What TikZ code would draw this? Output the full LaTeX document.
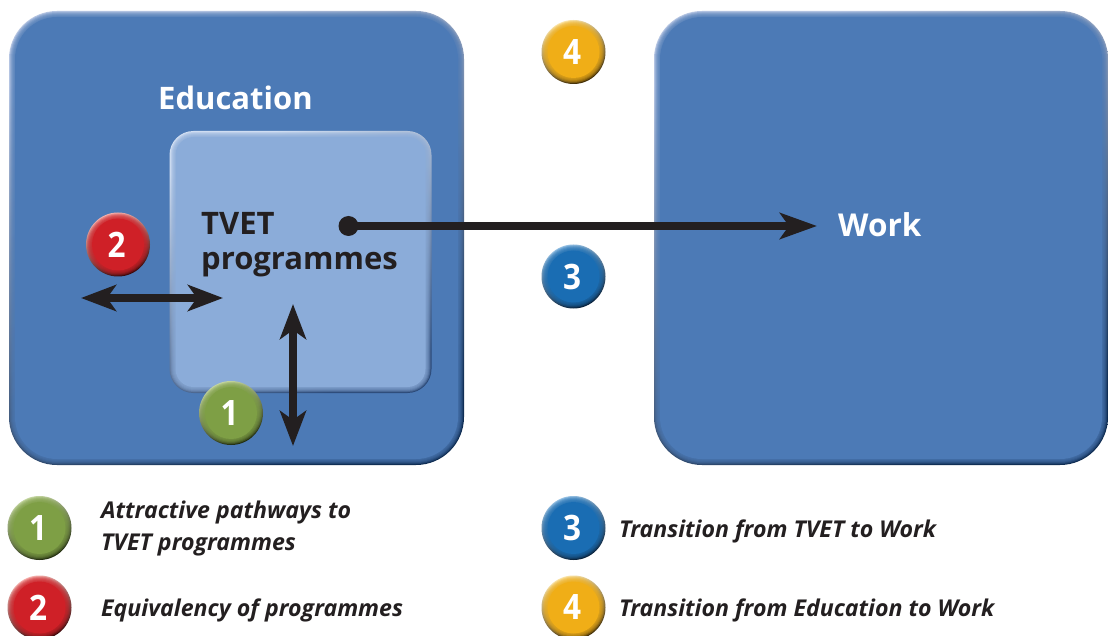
\documentclass[tikz,border=0pt]{standalone}
\usepackage{fontspec}
\setmainfont{Open Sans}
\usetikzlibrary{arrows.meta}
\definecolor{eduBase}{HTML}{4C7AB6}
\definecolor{eduLight}{HTML}{B4C4E2}
\definecolor{eduDark}{HTML}{0E2C52}
\definecolor{tvetBase}{HTML}{8BACD9}
\definecolor{tvetLight}{HTML}{D2DFF2}
\definecolor{tvetDark}{HTML}{2C4A78}
\definecolor{greenBase}{HTML}{7E9F45}
\definecolor{greenLight}{HTML}{C4D6A0}
\definecolor{greenDark}{HTML}{1F2A0C}
\definecolor{redBase}{HTML}{CF2027}
\definecolor{redLight}{HTML}{F6B0AC}
\definecolor{redDark}{HTML}{3A0506}
\definecolor{blueBase}{HTML}{1A6DB3}
\definecolor{blueLight}{HTML}{94C0E4}
\definecolor{blueDark}{HTML}{051E38}
\definecolor{orangeBase}{HTML}{F0AE17}
\definecolor{orangeLight}{HTML}{FBE3A4}
\definecolor{orangeDark}{HTML}{3E2A02}
\definecolor{inkDark}{HTML}{231F20}
\tikzset{
  rimbox/.style n args={3}{inner sep=0pt,top color=#1,middle color=#2,bottom color=#3,shading angle=22},
  facebox/.style={inner sep=0pt,draw=none},
  ballnum/.style={inner sep=0pt,circle,text=white,font=\fontsize{35}{35}\selectfont\bfseries},
  edulabel/.style={text=white,font=\fontsize{31}{31}\selectfont\bfseries,inner sep=0pt,anchor=base west},
  tvetlabel/.style={text=inkDark,font=\fontsize{31}{36}\selectfont\bfseries,inner sep=0pt},
  legendtext/.style={text=inkDark,font=\fontsize{23.15}{32}\selectfont\bfseries\itshape,inner sep=0pt,anchor=base west},
  heavy/.style={draw=inkDark,line width=8pt},
  twohead/.style={heavy,{Stealth[length=35pt,width=26pt,inset=9pt]}-{Stealth[length=35pt,width=26pt,inset=9pt]},shorten >=0pt,shorten <=0pt},
  onehead/.style={heavy,-{Stealth[length=37pt,width=26pt,inset=9pt]}},
}
% name, cx, cy, w, h, r(pt-number), colour stem
\newcommand{\bevelbox}[7]{%
  \node[rimbox={#7Light}{#7Base}{#7Dark},minimum width=#4,minimum height=#5,rounded corners=#6 pt] at (#2,#3) {};
  \foreach \i in {1,2,3,4,5}{%
    \pgfmathsetmacro{\rr}{#6-\i}%
    \pgfmathsetmacro{\ww}{#4-2*\i}%
    \pgfmathsetmacro{\hh}{#5-2*\i}%
    \node[facebox,fill=#7Base,fill opacity=.28,minimum width=\ww,minimum height=\hh,rounded corners=\rr pt] at (#2,#3) {};
  }%
  \pgfmathsetmacro{\ww}{#4-12}%
  \pgfmathsetmacro{\hh}{#5-12}%
  \pgfmathsetmacro{\rr}{#6-6}%
  \node[facebox,fill=#7Base,minimum width=\ww,minimum height=\hh,rounded corners=\rr pt] (#1) at (#2,#3) {};
}
% name, cx, cy, colour stem, digit
\newcommand{\bevelball}[5]{%
  \node[circle,rimbox={#4Light}{#4Base}{#4Dark},minimum size=64] at (#2,#3) {};
  \foreach \i in {1,2,3,4,5}{%
    \pgfmathsetmacro{\ww}{64-2*\i}%
    \node[circle,facebox,fill=#4Base,fill opacity=.28,minimum size=\ww] at (#2,#3) {};
  }%
  \node[ballnum,fill=#4Base,minimum size=52] (#1) at (#2,#3) {\kern-3pt\scalebox{.9}[1]{#5}};
}
\begin{document}
\begin{tikzpicture}[x=1pt,y=-1pt]
\clip (0,0) rectangle (1108,636);
\fill[white] (0,0) rectangle (1108,636);
% large panels
\bevelbox{edu}{236.5}{238}{455}{454}{48}{edu}
\bevelbox{work}{881}{238}{454}{454}{48}{edu}
\bevelbox{tvet}{300.5}{262}{262}{262}{24}{tvet}
% panel labels
\node[edulabel] (edulab) at (158,110) {Education};
\node[edulabel] (worklab) at (838,237) {\fontsize{31.5}{31.5}\selectfont Work};
\node[tvetlabel,anchor=base west] (tvetlab1) at (201,234.5) {TVET};
\node[tvetlabel,anchor=base west] (tvetlab2) at (201,270) {programmes};
% arrow anchors
\coordinate (h1) at (81,298);
\coordinate (h2) at (223,298);
\coordinate (v1) at (293,304);
\coordinate (v2) at (293,446);
\coordinate (m2) at (817,226);
\node[circle,fill=inkDark,minimum size=20,inner sep=0pt] (dot) at (348.5,226) {};
% badges under arrows
\bevelball{b1}{231}{413}{green}{1}
\draw[twohead] (h1) -- (h2);
\draw[twohead] (v1) -- (v2);
\draw[onehead] (dot.center) -- (m2);
\bevelball{b2}{118}{244.5}{red}{2}
\bevelball{b3}{573.5}{276.5}{blue}{3}
\bevelball{b4}{573.5}{52}{orange}{4}
% legend
\bevelball{l1}{39.5}{528}{green}{1}
\bevelball{l2}{39.5}{607.5}{red}{2}
\bevelball{l3}{573.5}{528}{blue}{3}
\bevelball{l4}{573.5}{607.5}{orange}{4}
\node[legendtext] (t1a) at (101,518) {Attractive pathways to};
\node[legendtext] (t1b) at (101,550) {TVET programmes};
\node[legendtext] (t2) at (101,616) {Equivalency of programmes};
\node[legendtext] (t3) at (619,537) {Transition from TVET to Work};
\node[legendtext] (t4) at (619,616) {Transition from Education to Work};
\end{tikzpicture}
\end{document}
